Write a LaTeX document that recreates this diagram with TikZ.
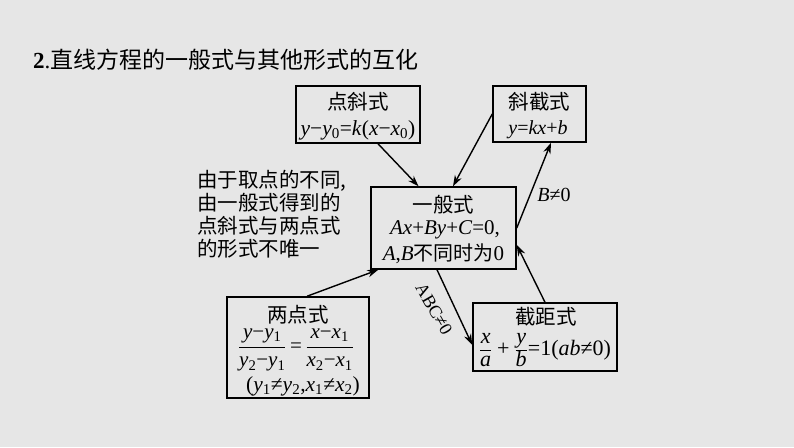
\documentclass[tikz,border=0pt]{standalone}
\usepackage{fix-cm}
\usepackage{fontspec}
\setmainfont{Liberation Serif}
\newfontfamily\cjk{Noto Sans CJK SC}
\usetikzlibrary{arrows.meta,calc}
\definecolor{bg}{HTML}{E6E6E6}
\newcommand\iv[1]{\textit{#1}}
\newcommand\sbx[1]{\textsubscript{#1}}
\newcommand\numx[1]{\hbox{\iv{#1}\rule[-6pt]{0pt}{6pt}}}
\newcommand\denx[1]{\hbox{\rule{0pt}{15.5pt}\iv{#1}}}
\begin{document}
\begin{tikzpicture}[x=1pt,y=-1pt,
  box/.style={draw=black, line width=1.5pt, inner sep=0pt},
  txt/.style={inner sep=0pt, font=\fontsize{20.5}{24}\selectfont},
  zh/.style={inner sep=0pt, font=\cjk\fontsize{20.5}{24}\selectfont},
  conn/.style={line width=1.4pt, -{Stealth[length=11pt,width=7.5pt]}},
  lbl/.style={inner sep=0pt, font=\fontsize{20}{24}\selectfont}]
\path[fill=bg, use as bounding box] (0,0) rectangle (794,447);

% title
\node[anchor=west, inner sep=0pt, font=\fontsize{23}{27}\selectfont] (title) at (33,60)
  {\textbf{2}.{\cjk 直线方程的一般式与其他形式的互化}};

% side remark
\node[anchor=west, inner sep=0pt, align=left, font=\cjk\fontsize{20.5}{23}\selectfont] (note) at (197,214)
  {由于取点的不同,\\由一般式得到的\\点斜式与两点式\\的形式不唯一};

% boxes
\node[box, minimum width=124pt, minimum height=57pt] (dian) at (358,114.5) {};
\node[zh] (dianT) at (358,102) {点斜式};
\node[txt, font=\fontsize{21.5}{24}\selectfont] (dianF) at (358,130) {\iv{y}−\iv{y}\sbx{0}=\iv{k}(\iv{x}−\iv{x}\sbx{0})};

\node[box, minimum width=93pt, minimum height=56pt] (xie) at (539.5,114) {};
\node[zh] (xieT) at (539.5,102) {斜截式};
\node[txt, font=\fontsize{20}{24}\selectfont] (xieF) at (538,130) {\iv{y}=\iv{kx}+\iv{b}};

\node[box, minimum width=145pt, minimum height=82pt] (yiban) at (443.5,228) {};
\node[zh] (yibanT) at (443.5,205) {一般式};
\node[txt, font=\fontsize{21}{24}\selectfont] (yibanF) at (445,230) {\iv{Ax}+\iv{By}+\iv{C}=0,};
\node[txt, font=\fontsize{21}{24}\selectfont] (yibanG) at (443.5,254) {\iv{A},\iv{B}{\cjk\fontsize{20}{23}\selectfont 不同时为}0};

\node[box, minimum width=142pt, minimum height=101pt] (liang) at (298,347.5) {};
\node[zh] (liangT) at (298,315) {两点式};
\node[txt, font=\fontsize{21}{24}\selectfont] (liangF) at (296,350)
  {$\displaystyle\frac{\hbox{\iv{y}−\iv{y}\sbx{1}}}{\hbox{\iv{y}\sbx{2}−\iv{y}\sbx{1}}}\hbox{\,=\,}\frac{\hbox{\iv{x}−\iv{x}\sbx{1}}}{\hbox{\iv{x}\sbx{2}−\iv{x}\sbx{1}}}$};
\node[txt, font=\fontsize{21.5}{24}\selectfont] (liangG) at (303,386) {(\iv{y}\sbx{1}≠\iv{y}\sbx{2},\iv{x}\sbx{1}≠\iv{x}\sbx{2})};

\node[box, minimum width=144pt, minimum height=68pt] (jieju) at (545,337) {};
\node[zh] (jiejuT) at (546,317) {截距式};
\node[txt, font=\fontsize{22}{24}\selectfont] (jiejuF) at (545,350)
  {$\textstyle\frac{\numx{x}}{\denx{a}}\mathbin{\hbox{+}}\frac{\numx{y}}{\denx{b}}$\hbox{=1(\iv{ab}≠0)}};

% connectors
\draw[conn] ($(dian.south)+(20,0)$) -- ($(yiban.north)+(-25,0)$);
\draw[conn] (xie.west) -- ($(yiban.north)+(9.5,0)$);
\draw[conn] (yiban.east) -- ($(xie.south)+(11.5,0)$);
\draw[conn] (jieju.north) -- ($(yiban.east)+(0,17)$);
\draw[conn] ($(yiban.south)+(-6.5,0)$) -- ($(jieju.west)+(0,8)$);
\draw[conn] ($(liang.north)+(9,0)$) -- ($(yiban.south west)+(8,0)$);

% labels
\node[lbl] (bne) at (554,195) {\iv{B}≠0};
\node[lbl, rotate=-60, font=\fontsize{18}{20}\selectfont] (abc) at (434,309) {ABC≠0};
\end{tikzpicture}
\end{document}
